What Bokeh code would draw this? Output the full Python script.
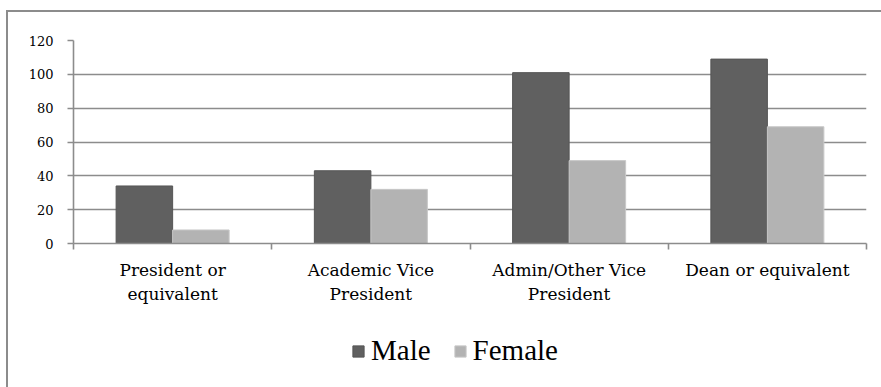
from bokeh.plotting import figure
from bokeh.layouts import column
from bokeh.models import ColumnDataSource, FixedTicker, Range1d, Legend, LegendItem
from bokeh.embed import file_html
from bokeh.resources import INLINE

# Data
categories = ["President or\nequivalent", "Academic Vice\nPresident",
              "Admin/Other Vice\nPresident", "Dean or equivalent"]
male = [34, 43, 101, 109]
female = [8, 32, 49, 69]
y_ticks = [0, 20, 40, 60, 80, 100, 120]

GRID = "#8c8c8c"
MALE_C = "#606060"
FEMALE_C = "#b3b3b3"
SERIF = "DejaVu Serif"
LEGEND_FONT = "Liberation Serif"

centers = [i + 0.5 for i in range(len(categories))]
bar_w = 0.285
src = ColumnDataSource(dict(
    xm=[c - bar_w / 2 for c in centers],
    xf=[c + bar_w / 2 for c in centers],
    male=male,
    female=female,
))

W, H_CHART, H_LEGEND = 873, 300, 75


def bars(fig):
    rm = fig.vbar(x="xm", top="male", width=bar_w, source=src, fill_color=MALE_C,
                  line_color="#555555", line_width=1)
    rf = fig.vbar(x="xf", top="female", width=bar_w, source=src, fill_color=FEMALE_C,
                  line_color="#c8c8c8", line_width=1)
    return rm, rf


# Main chart
p = figure(width=W, height=H_CHART, output_backend="svg", toolbar_location=None,
           x_range=Range1d(0, len(categories)), y_range=Range1d(0, 120),
           min_border_left=65, min_border_right=15, min_border_top=28,
           min_border_bottom=69)
p.outline_line_color = None
p.background_fill_color = "white"
p.border_fill_color = "white"
bars(p)

p.xgrid.visible = False
p.ygrid.grid_line_color = GRID
p.ygrid.grid_line_width = 1.6

p.yaxis.ticker = FixedTicker(ticks=y_ticks)
p.yaxis.axis_line_color = GRID
p.yaxis.axis_line_width = 1.6
p.yaxis.major_tick_line_color = GRID
p.yaxis.major_tick_line_width = 1.6
p.yaxis.major_tick_in = 0
p.yaxis.major_tick_out = 6
p.yaxis.minor_tick_line_color = None
p.yaxis.major_label_standoff = 14
p.yaxis.major_label_text_font = SERIF
p.yaxis.major_label_text_font_size = "13px"
p.yaxis.major_label_text_color = "black"

# Category names at group centres, separator ticks at group boundaries
p.xaxis.ticker = FixedTicker(ticks=centers,
                             minor_ticks=list(range(len(categories) + 1)))
p.xaxis.major_label_overrides = {c: lab for c, lab in zip(centers, categories)}
p.xaxis.axis_line_color = GRID
p.xaxis.axis_line_width = 1.6
p.xaxis.major_tick_line_color = None
p.xaxis.minor_tick_line_color = GRID
p.xaxis.minor_tick_line_width = 1.6
p.xaxis.minor_tick_in = 0
p.xaxis.minor_tick_out = 6
p.xaxis.major_label_standoff = 10
p.xaxis.major_label_text_font = SERIF
p.xaxis.major_label_text_font_size = "17px"
p.xaxis.major_label_text_color = "black"
p.xaxis.major_label_text_line_height = 1.2

# Legend strip underneath; its copies of the bars lie far below its y range
q = figure(width=W, height=H_LEGEND, output_backend="svg", toolbar_location=None,
           x_range=Range1d(0, len(categories)), y_range=Range1d(1000, 1010),
           min_border=0)
q.outline_line_color = None
q.xaxis.visible = False
q.yaxis.visible = False
q.grid.visible = False
lm, lf = bars(q)

lg = Legend(items=[LegendItem(label="Male", renderers=[lm]),
                   LegendItem(label="Female", renderers=[lf])],
            orientation="horizontal", location=(278, 20),
            border_line_color=None, background_fill_alpha=0,
            padding=0, margin=0, spacing=22,
            glyph_width=14, glyph_height=14, label_standoff=6,
            label_text_font=LEGEND_FONT, label_text_font_size="29px",
            label_text_color="black")
q.add_layout(lg, "center")

page = column(p, q, spacing=0)
page.margin = (10, 0, 0, 6)
page.styles = {"border-top": f"2px solid {GRID}", "border-left": f"2px solid {GRID}"}

open("out.html", "w").write(file_html(page, INLINE))
